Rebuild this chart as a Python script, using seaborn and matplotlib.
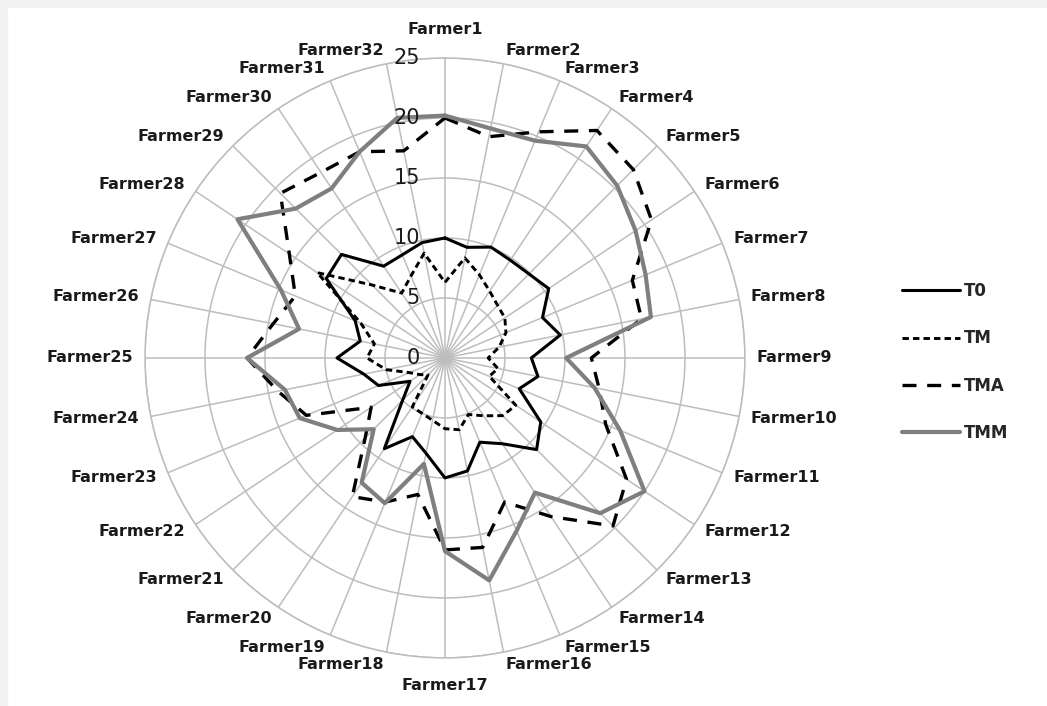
import numpy as np
import pandas as pd
import matplotlib
matplotlib.use("Agg")
import matplotlib.pyplot as plt
import seaborn as sns

# Categories and series values
farmers = [f"Farmer{i}" for i in range(1, 33)]

t0 = [10.0, 9.4, 10.0, 9.8, 9.9, 10.4, 8.8, 9.8, 7.2, 7.9, 6.7, 9.6,
      10.8, 8.6, 7.6, 9.6, 10.0, 8.1, 7.1, 9.1, 5.0, 3.5, 6.0, 6.9,
      9.0, 7.2, 8.1, 11.9, 12.2, 9.2, 9.3, 9.8]
tm = [6.3, 8.5, 7.5, 6.7, 6.2, 6.0, 5.5, 4.6, 3.6, 4.5, 4.0, 7.1,
      6.8, 5.8, 5.1, 6.1, 5.9, 5.3, 5.0, 4.9, 2.0, 2.5, 3.2, 5.0,
      6.5, 6.0, 7.6, 12.8, 8.6, 6.5, 7.4, 8.9]
tma = [20.0, 18.8, 20.4, 22.8, 22.2, 20.7, 16.9, 16.7, 12.2, 13.1, 14.5, 18.2,
       19.8, 15.9, 13.0, 16.1, 16.0, 11.6, 13.0, 13.9, 9.4, 7.4, 12.5, 14.2,
       16.5, 14.6, 13.5, 15.6, 19.4, 18.6, 18.6, 17.6]
tmm = [20.2, 19.5, 19.6, 21.2, 20.3, 19.1, 18.1, 17.5, 10.1, 12.7, 15.8, 20.0,
       18.3, 13.5, 15.6, 18.9, 16.1, 9.0, 13.1, 12.5, 8.4, 10.8, 13.1, 13.6,
       16.5, 12.4, 14.8, 20.8, 17.6, 17.0, 18.6, 20.4]

series = {"T0": t0, "TM": tm, "TMA": tma, "TMM": tmm}
r_ticks = [0, 5, 10, 15, 20, 25]

# Long table, each loop closed by repeating the first point
n = len(farmers)
angles = np.linspace(0, 2 * np.pi, n, endpoint=False)
rows = []
for name, vals in series.items():
    for k in range(n + 1):
        rows.append({"series": name, "angle": angles[k % n] + (2 * np.pi if k == n else 0),
                     "value": vals[k % n], "order": k})
df = pd.DataFrame(rows)

sns.set_style("white")
plt.rcParams["font.family"] = ["DejaVu Sans"]

fig = plt.figure(figsize=(10.47, 7.06), dpi=100)
fig.patch.set_facecolor("white")
# light grey frame on the left and top edges
fig.patches.append(plt.Rectangle((0, 0), 7 / 1047, 1, transform=fig.transFigure,
                                 color="#f2f2f2", zorder=-1))
fig.patches.append(plt.Rectangle((0, 1 - 7 / 706), 1, 7 / 706, transform=fig.transFigure,
                                 color="#f2f2f2", zorder=-1))

ax = fig.add_axes([0.1385, 0.068, 0.573, 0.850], projection="polar")
ax.set_theta_zero_location("N")
ax.set_theta_direction(-1)
ax.set_ylim(0, 25)
ax.set_xticks(angles)
ax.set_xticklabels([])
ax.set_yticks(r_ticks)
ax.set_yticklabels([])
ax.grid(True, color="#bdbdbd", linewidth=1.1)
ax.spines["polar"].set_color("#bdbdbd")
ax.spines["polar"].set_linewidth(1.1)
ax.tick_params(length=0)

styles = {
    "T0": dict(color="black", linewidth=2.2, linestyle="-"),
    "TM": dict(color="black", linewidth=2.1, linestyle=(0, (2.2, 1.4))),
    "TMA": dict(color="black", linewidth=2.4, linestyle=(0, (4.2, 3.2))),
    "TMM": dict(color="#7f7f7f", linewidth=3.0, linestyle="-"),
}
for name in series:
    sub = df[df["series"] == name]
    sns.lineplot(data=sub, x="angle", y="value", sort=False, estimator=None,
                 ax=ax, label=name, **styles[name])

ax.set_xlabel("")
ax.set_ylabel("")

# category labels around the circle
for ang, lab in zip(angles, farmers):
    s, c = np.sin(ang), np.cos(ang)
    if abs(s) < 0.01:
        ha = "center"
        dy = 28 * np.sign(c)
        dx = 0
    else:
        ha = "left" if s > 0 else "right"
        dx = 12 * s
        dy = 13 * c
    ax.annotate(lab, xy=(ang, 25), xytext=(dx, dy), textcoords="offset pixels",
                ha=ha, va="center", fontsize=11.5, fontweight="bold",
                color="#1a1a1a", annotation_clip=False)

# radial value labels
for r in r_ticks:
    ax.annotate(str(r), xy=(0, r), xytext=(-25, 0), textcoords="offset pixels",
                ha="right", va="center", fontsize=15, color="#1a1a1a",
                annotation_clip=False)

ax.get_legend().remove()
handles, labels = ax.get_legend_handles_labels()
fig.legend(handles, labels, loc="center left", bbox_to_anchor=(887 / 1047, 1 - 362 / 706),
           frameon=False, handlelength=3.5, handletextpad=0.2,
           labelspacing=1.75, prop={"weight": "bold", "size": 12})

fig.savefig("out.png", dpi=100, facecolor=fig.get_facecolor())
